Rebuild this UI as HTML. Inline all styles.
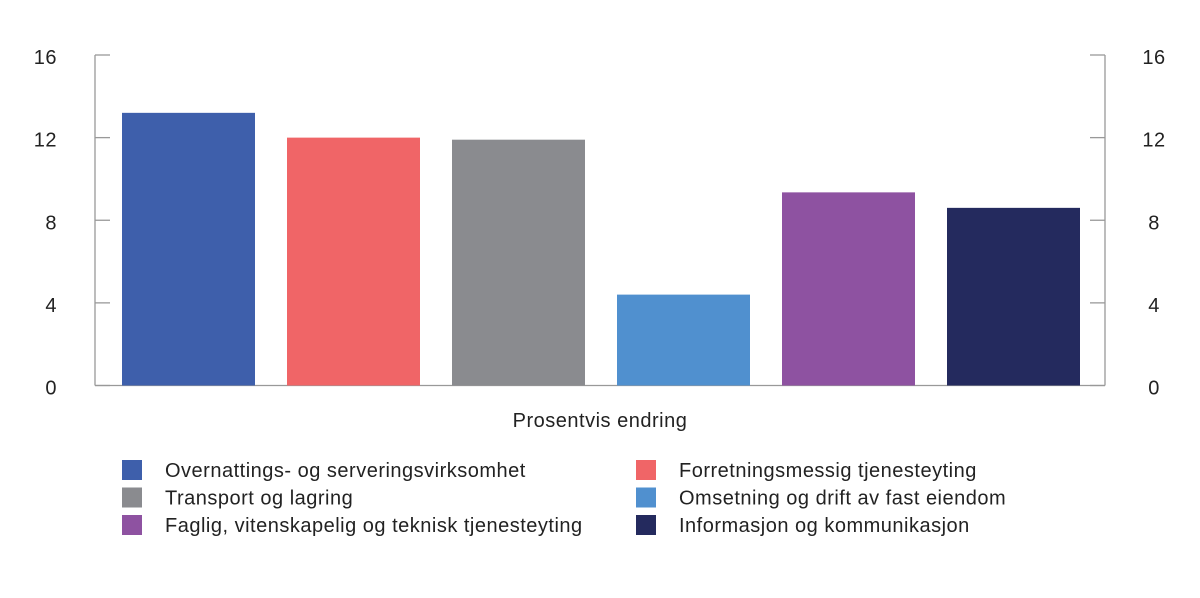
<!DOCTYPE html>
<html><head><meta charset="utf-8"><style>
body{margin:0;background:#fff;}
svg{display:block;font-family:"Liberation Sans",sans-serif;}
text{letter-spacing:0.5px;}
</style></head><body>
<svg id="chart" width="1200" height="598">
<g id="axes"></g><g id="bars"></g><g id="legend"></g>
</svg>
<script>
const categories=["Overnattings- og serveringsvirksomhet","Forretningsmessig tjenesteyting","Transport og lagring","Omsetning og drift av fast eiendom","Faglig, vitenskapelig og teknisk tjenesteyting","Informasjon og kommunikasjon"];
const values=[13.2,12.0,11.9,4.4,9.35,8.6];
const colors=["#3e5fab","#f06567","#8a8b8f","#5090cf","#8e52a1","#242a5e"];
const ticks=[0,4,8,12,16];
const NS="http://www.w3.org/2000/svg";
const y0=385.5,y1=55,left=95,right=1105;
function y(v){return y0-(v/16)*(y0-y1);}
function x(i){return 122+165*i;}
function mk(tag,attrs,parent,txt){const e=document.createElementNS(NS,tag);for(const k in attrs)e.setAttribute(k,attrs[k]);if(txt!=null)e.textContent=txt;parent.appendChild(e);return e;}
const axes=document.getElementById('axes');
let e=mk('line',{x1:left,x2:left,y1:y1,y2:y0,stroke:'#999','stroke-width':1.3},axes);

e=mk('line',{x1:right,x2:right,y1:y1,y2:y0,stroke:'#999','stroke-width':1.3},axes);

e=mk('line',{x1:left,x2:right,y1:y0,y2:y0,stroke:'#999','stroke-width':1.3},axes);

ticks.forEach(t=>{
 mk('line',{x1:left,x2:left+15,y1:y(t),y2:y(t),stroke:'#999','stroke-width':1.3},axes);
 mk('line',{x1:right-15,x2:right,y1:y(t),y2:y(t),stroke:'#999','stroke-width':1.3},axes);
 let l=mk('text',{x:57,y:y(t)+9,'text-anchor':'end','font-size':20,fill:'#222'},axes,t);
 
 let r=mk('text',{x:1154,y:y(t)+9,'text-anchor':'middle','font-size':20,fill:'#222'},axes,t);
 
});
e=mk('text',{x:600,y:427,'text-anchor':'middle','font-size':20,fill:'#222'},axes,'Prosentvis endring');

const bars=document.getElementById('bars');
values.forEach((v,i)=>{
 const b=mk('rect',{x:x(i),y:y(v),width:133,height:y0-y(v),fill:colors[i]},bars);
 
 
});
const lg=document.getElementById('legend');
categories.forEach((c,i)=>{
 const col=i%2,row=Math.floor(i/2);
 const sx=col?636:122,ty=470+row*27.5;
 const g=mk('g',{},lg);
 
 
 mk('rect',{x:sx,y:ty-10,width:20,height:20,fill:colors[i]},g);
 mk('text',{x:sx+43,y:ty+7,'font-size':20,fill:'#222'},g,c);
});
</script>
</body></html>
